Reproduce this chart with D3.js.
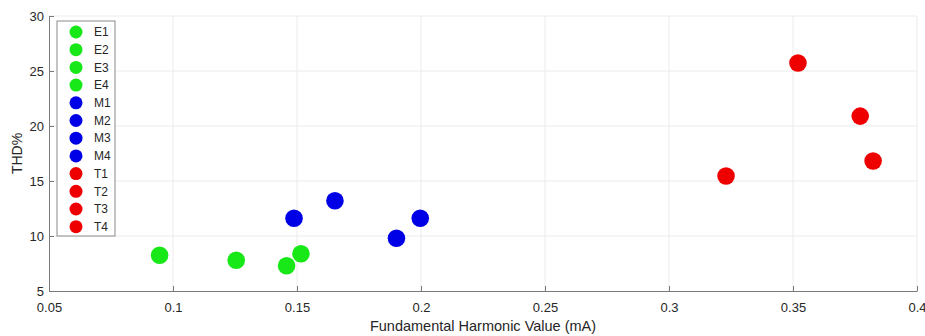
<!DOCTYPE html>
<html>
<head>
<meta charset="utf-8">
<script src="https://cdn.jsdelivr.net/npm/d3@7"></script>
<style>
  body { margin: 0; background: #fff; }
  text { font-family: "Liberation Sans", Arial, sans-serif; }
</style>
</head>
<body>
<div id="chart"></div>
<script>
// Data
const labels = ["E1", "E2", "E3", "E4", "M1", "M2", "M3", "M4", "T1", "T2", "T3", "T4"];
const groups = ["E", "E", "E", "E", "M", "M", "M", "M", "T", "T", "T", "T"];
const fundamental = [0.0946, 0.1255, 0.1458, 0.1516, 0.1488, 0.1653, 0.1901, 0.1997, 0.3520, 0.3771, 0.3823, 0.3230];
const thd = [8.25, 7.79, 7.30, 8.39, 11.61, 13.21, 9.79, 11.61, 25.73, 20.90, 16.82, 15.45];
const xTicks = [0.05, 0.1, 0.15, 0.2, 0.25, 0.3, 0.35, 0.4];
const yTicks = [5, 10, 15, 20, 25, 30];
const groupColor = { E: "#18e818", M: "#0000e6", T: "#ee0000" };

function renderScatter(container) {
    const width = 925;
    const height = 336;
    const margin = {top: 16, right: 8, bottom: 45, left: 49};

    const svg = d3.select(container)
        .append("svg")
        .attr("width", width)
        .attr("height", height);

    const x = d3.scaleLinear()
        .domain([0.05, 0.4])
        .range([margin.left, width - margin.right]);
    const y = d3.scaleLinear()
        .domain([5, 30])
        .range([height - margin.bottom, margin.top]);

    // Grid
    svg.append("g")
        .selectAll("line.vx")
        .data(xTicks.slice(1))
        .join("line")
        .attr("x1", d => x(d)).attr("x2", d => x(d))
        .attr("y1", y(5)).attr("y2", y(30))
        .attr("stroke", "#ebebeb");
    svg.append("g")
        .selectAll("line.hy")
        .data(yTicks.slice(1))
        .join("line")
        .attr("x1", x(0.05)).attr("x2", x(0.4))
        .attr("y1", d => y(d)).attr("y2", d => y(d))
        .attr("stroke", "#ebebeb");

    // Axes (ticks pointing inward)
    const xAxis = svg.append("g")
        .attr("transform", `translate(0,${y(5)})`)
        .call(d3.axisBottom(x).tickValues(xTicks).tickFormat(d3.format("")).tickSizeInner(-5).tickSizeOuter(0).tickPadding(12));
    const yAxis = svg.append("g")
        .attr("transform", `translate(${x(0.05)},0)`)
        .call(d3.axisLeft(y).tickValues(yTicks).tickSizeInner(-5).tickSizeOuter(0).tickPadding(5));

    [xAxis, yAxis].forEach(ax => {
        ax.select(".domain").attr("stroke", "#7a7a7a");
        ax.selectAll(".tick line").attr("stroke", "#7a7a7a");
        ax.selectAll(".tick text")
            .attr("fill", "#262626")
            .style("font-size", "13px")
            .style("font-family", "'Liberation Sans', Arial, sans-serif");
    });

    // Axis titles
    svg.append("text")
        .attr("x", (x(0.05) + x(0.4)) / 2)
        .attr("y", 331)
        .attr("text-anchor", "middle")
        .attr("fill", "#262626")
        .style("font-size", "14.5px")
        .text("Fundamental Harmonic Value (mA)");
    svg.append("text")
        .attr("transform", `translate(22,${y(17.5)}) rotate(-90)`)
        .attr("text-anchor", "middle")
        .attr("fill", "#262626")
        .style("font-size", "14px")
        .text("THD%");

    // Points
    svg.append("g")
        .selectAll("circle")
        .data(labels)
        .join("circle")
        .attr("cx", (d, i) => x(fundamental[i]))
        .attr("cy", (d, i) => y(thd[i]))
        .attr("r", 8.8)
        .attr("fill", (d, i) => groupColor[groups[i]]);

    // Legend
    const legend = svg.append("g").attr("transform", "translate(57,21)");
    legend.append("rect")
        .attr("width", 58)
        .attr("height", 215)
        .attr("fill", "#fff")
        .attr("stroke", "#8a8a8a")
        .attr("stroke-width", 1);
    const item = legend.selectAll("g.item")
        .data(labels)
        .join("g")
        .attr("transform", (d, i) => `translate(0,${11 + i * 17.7})`);
    item.append("circle")
        .attr("cx", 19)
        .attr("r", 6.5)
        .attr("fill", (d, i) => groupColor[groups[i]]);
    item.append("text")
        .attr("x", 37)
        .attr("dy", "0.35em")
        .attr("fill", "#262626")
        .style("font-size", "12px")
        .text(d => d);
}

renderScatter(document.getElementById("chart"));
</script>
</body>
</html>
